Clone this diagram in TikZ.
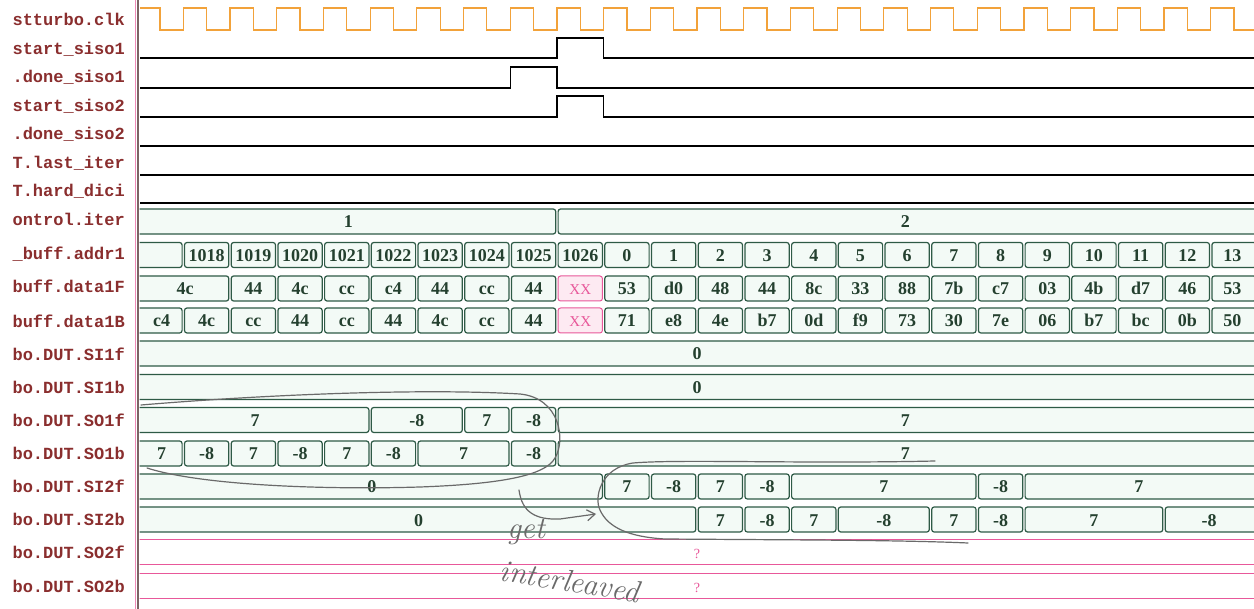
\documentclass[tikz,border=0pt]{standalone}
\usepackage{fontspec}
\usetikzlibrary{arrows.meta}
\newfontfamily\labfont{Liberation Mono}
\newfontfamily\busfont{Liberation Serif}
\definecolor{labred}{HTML}{8A2E2E}
\definecolor{busline}{HTML}{2E5A46}
\definecolor{bustext}{HTML}{24402F}
\definecolor{busfill}{HTML}{F3FAF6}
\definecolor{clk}{HTML}{F2A23A}
\definecolor{pinkc}{HTML}{E8589A}
\definecolor{pinkfill}{HTML}{FDEAF2}
\definecolor{handc}{HTML}{6A6A6A}
\definecolor{divc}{HTML}{7A6464}
\newcounter{segc}
\tikzset{
 sig/.style={line width=1.3pt, draw=black},
 clkline/.style={line width=1.2pt, draw=clk},
 busbox/.style={draw=busline, fill=busfill, line width=1.2pt, rounded corners=2.5pt},
 busbox text/.style={font=\busfont\bfseries\fontsize{18}{18}\selectfont, text=bustext, anchor=base, inner sep=0pt},
 xxbox/.style={draw=pinkc, fill=pinkfill, line width=1pt, rounded corners=2.5pt},
 xxbox text/.style={font=\busfont\fontsize{15}{15}\selectfont, text=pinkc, anchor=base, inner sep=0pt},
 qbox/.style={draw=pinkc, line width=0.9pt},
 qbox text/.style={font=\busfont\fontsize{14}{14}\selectfont, text=pinkc, anchor=base, inner sep=0pt},
 lab/.style={font=\labfont\bfseries\fontsize{17}{17}\selectfont, text=labred, anchor=base east, inner sep=0pt},
 handline/.style={draw=handc, line width=1.2pt, line cap=round},
 handtext/.style={font=\itshape\fontsize{31}{31}\selectfont, text=handc, inner sep=0pt},
}
% [style] {y centre} {from edge} {to edge} {text}; edge -1 = left border, 99 = right border
\newcommand\busseg[5][busbox]{%
 \pgfmathsetmacro\xa{#3<-0.5 ? 136 : 183.3+46.7*#3}%
 \pgfmathsetmacro\xb{#4>50 ? 1262 : 183.3+46.7*#4}%
 \pgfmathsetmacro\lx{max(\xa,140)}%
 \pgfmathsetmacro\rx{min(\xb,1254)}%
 \pgfmathsetmacro\mx{(\lx+\rx)/2}%
 \stepcounter{segc}%
 \draw[#1] (\xa+1.2,#2-12.5) rectangle (\xb-1.2,#2+12.5);%
 \node[#1 text] (seg\arabic{segc}) at (\mx,#2+6.5) {#5};%
}
\begin{document}
\begin{tikzpicture}[x=1pt,y=-1pt]
\fill[white] (0,0) rectangle (1254,609);
\useasboundingbox (0,0) rectangle (1254,609);

% signal names
\node[lab] (l1) at (125,25.5) {stturbo.clk};
\node[lab] (l2) at (125,54.5) {start\_siso1};
\node[lab] (l3) at (125,82.5) {.done\_siso1};
\node[lab] (l4) at (125,111.5) {start\_siso2};
\node[lab] (l5) at (125,139.5) {.done\_siso2};
\node[lab] (l6) at (125,168.5) {T.last\_iter};
\node[lab] (l7) at (125,196.5) {T.hard\_dici};
\node[lab] (l8) at (125,225.5) {ontrol.iter};
\node[lab] (l9) at (125,259.5) {\_buff.addr1};
\node[lab] (l10) at (125,292.5) {buff.data1F};
\node[lab] (l11) at (125,327.5) {buff.data1B};
\node[lab] (l12) at (125,360.5) {bo.DUT.SI1f};
\node[lab] (l13) at (125,393.5) {bo.DUT.SI1b};
\node[lab] (l14) at (125,426.5) {bo.DUT.SO1f};
\node[lab] (l15) at (125,459.5) {bo.DUT.SO1b};
\node[lab] (l16) at (125,492.5) {bo.DUT.SI2f};
\node[lab] (l17) at (125,525.5) {bo.DUT.SI2b};
\node[lab] (l18) at (125,558.5) {bo.DUT.SO2f};
\node[lab] (l19) at (125,592.5) {bo.DUT.SO2b};

% divider
\draw[pinkc!70, line width=0.8pt] (135.3,0) -- (135.3,609);
\draw[divc, line width=2.2pt] (138.3,0) -- (138.3,609);

\begin{scope}
\clip (139.6,0) rectangle (1254,609);
% clock
\draw[clkline] (140,8) -- (160,8) -- (160,30)
  \foreach \k in {0,...,22}{ -- ({183.3+46.7*\k},30) -- ({183.3+46.7*\k},8) -- ({206.65+46.7*\k},8) -- ({206.65+46.7*\k},30)} -- (1254,30);
% single-bit signals
\draw[sig] (140,58) -- (556.9,58) -- (556.9,38) -- (603.6,38) -- (603.6,58) -- (1254,58);
\draw[sig] (140,88) -- (510.2,88) -- (510.2,67) -- (556.9,67) -- (556.9,88) -- (1254,88);
\draw[sig] (140,117) -- (556.9,117) -- (556.9,96) -- (603.6,96) -- (603.6,117) -- (1254,117);
\draw[sig] (140,146) -- (1254,146);
\draw[sig] (140,175) -- (1254,175);
\draw[sig] (140,203) -- (1254,203);

% ontrol.iter
\busseg{221.5}{-1}{8}{1}
\busseg{221.5}{8}{99}{2}
% addr1
\busseg{255}{-1}{0}{}
\foreach \t [count=\i from 0] in {1018,1019,1020,1021,1022,1023,1024,1025,1026,0,1,2,3,4,5,6,7,8,9,10,11,12,13}{
  \pgfmathtruncatemacro\j{\i+1}
  \busseg{255}{\i}{\j}{\t}
}
% data1F
\busseg{288.5}{-1}{1}{4c}
\foreach \t [count=\i from 1] in {44,4c,cc,c4,44,cc,44}{
  \pgfmathtruncatemacro\j{\i+1}
  \busseg{288.5}{\i}{\j}{\t}
}
\busseg[xxbox]{288.5}{8}{9}{XX}
\foreach \t [count=\i from 9] in {53,d0,48,44,8c,33,88,7b,c7,03,4b,d7,46,53}{
  \pgfmathtruncatemacro\j{\i+1}
  \busseg{288.5}{\i}{\j}{\t}
}
% data1B
\busseg{320.5}{-1}{0}{c4}
\foreach \t [count=\i from 0] in {4c,cc,44,cc,44,4c,cc,44}{
  \pgfmathtruncatemacro\j{\i+1}
  \busseg{320.5}{\i}{\j}{\t}
}
\busseg[xxbox]{320.5}{8}{9}{XX}
\foreach \t [count=\i from 9] in {71,e8,4e,b7,0d,f9,73,30,7e,06,b7,bc,0b,50}{
  \pgfmathtruncatemacro\j{\i+1}
  \busseg{320.5}{\i}{\j}{\t}
}
% SI1f / SI1b
\busseg{353.5}{-1}{99}{0}
\busseg{387}{-1}{99}{0}
% SO1f
\busseg{420}{-1}{4}{7}
\busseg{420}{4}{6}{-8}
\busseg{420}{6}{7}{7}
\busseg{420}{7}{8}{-8}
\busseg{420}{8}{99}{7}
% SO1b
\busseg{453.5}{-1}{0}{7}
\busseg{453.5}{0}{1}{-8}
\busseg{453.5}{1}{2}{7}
\busseg{453.5}{2}{3}{-8}
\busseg{453.5}{3}{4}{7}
\busseg{453.5}{4}{5}{-8}
\busseg{453.5}{5}{7}{7}
\busseg{453.5}{7}{8}{-8}
\busseg{453.5}{8}{99}{7}
% SI2f
\busseg{486.5}{-1}{9}{0}
\busseg{486.5}{9}{10}{7}
\busseg{486.5}{10}{11}{-8}
\busseg{486.5}{11}{12}{7}
\busseg{486.5}{12}{13}{-8}
\busseg{486.5}{13}{17}{7}
\busseg{486.5}{17}{18}{-8}
\busseg{486.5}{18}{99}{7}
% SI2b
\busseg{519.5}{-1}{11}{0}
\busseg{519.5}{11}{12}{7}
\busseg{519.5}{12}{13}{-8}
\busseg{519.5}{13}{14}{7}
\busseg{519.5}{14}{16}{-8}
\busseg{519.5}{16}{17}{7}
\busseg{519.5}{17}{18}{-8}
\busseg{519.5}{18}{21}{7}
\busseg{519.5}{21}{99}{-8}
% SO2f / SO2b
\busseg[qbox]{552}{-1}{99}{?}
\busseg[qbox]{585.5}{-1}{99}{?}
\end{scope}

% handwritten annotation
\draw[handline] (141,405) .. controls (260,395) and (420,388) .. (520,394)
  .. controls (560,398) and (566,440) .. (555,458)
  .. controls (545,476) and (500,484) .. (420,487)
  .. controls (320,490) and (200,485) .. (147,468);
\draw[handline] (935,461) .. controls (800,464) and (680,459) .. (633,463)
  .. controls (600,468) and (594,498) .. (600,510)
  .. controls (608,528) and (630,537) .. (665,539)
  .. controls (800,540) and (900,540) .. (968,543);
\coordinate (arrS) at (519,490);
\coordinate (arrE) at (596,514);
\draw[handline, -{Straight Barb[length=8pt,width=11pt]}] (arrS) .. controls (522,512) and (535,520) .. (560,519) -- (arrE);
\node[handtext] (get) at (526,532) {get};
\node[handtext, rotate=-9] (inter) at (570,581) {interleaved};
\end{tikzpicture}
\end{document}
